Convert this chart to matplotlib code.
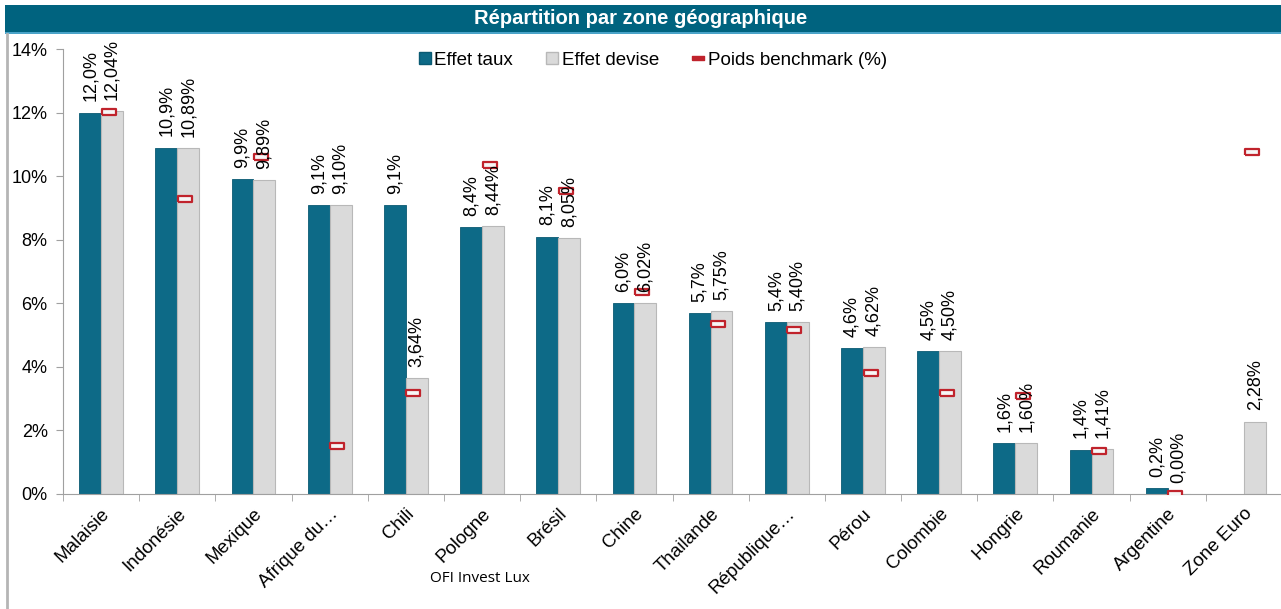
import numpy as np
import matplotlib
matplotlib.use("Agg")
import matplotlib.pyplot as plt
from matplotlib.lines import Line2D
from matplotlib.patches import Rectangle
from matplotlib.ticker import FuncFormatter, FixedLocator

plt.rcParams['font.family'] = ['Liberation Sans', 'DejaVu Sans']

categories = ["Malaisie", "Indonésie", "Mexique", "Afrique du…", "Chili", "Pologne",
              "Brésil", "Chine", "Thailande", "République…", "Pérou", "Colombie",
              "Hongrie", "Roumanie", "Argentine", "Zone Euro"]
effet_taux = [12.0, 10.9, 9.9, 9.1, 9.1, 8.4, 8.1, 6.0, 5.7, 5.4, 4.6, 4.5, 1.6, 1.4, 0.2, np.nan]
effet_devise = [12.04, 10.89, 9.89, 9.10, 3.64, 8.44, 8.05, 6.02, 5.75, 5.40, 4.62, 4.50,
                1.60, 1.41, 0.00, 2.28]
poids_benchmark = [12.02, 9.27, 10.59, 1.52, 3.19, 10.35, 9.53, 6.36, 5.36, 5.15, 3.80, 3.17,
                   3.09, 1.36, 0.0, 10.75]
yticks = [0, 2, 4, 6, 8, 10, 12, 14]

W, H = 1281, 609
fig = plt.figure(figsize=(W / 100, H / 100), dpi=100)

teal = "#0d6a87"
grey = "#dadada"
red = "#c0232c"

# Title bar
fig.patches.append(Rectangle((5 / W, 1 - 33 / H), 1 - 5 / W, 28 / H, transform=fig.transFigure,
                             facecolor="#00637f", edgecolor="none", zorder=0))
fig.patches.append(Rectangle((5 / W, 1 - 34 / H), 1 - 5 / W, 1.5 / H, transform=fig.transFigure,
                             facecolor="#4aa3c8", edgecolor="none", zorder=0))
fig.text(0.5, 1 - 19 / H, "Répartition par zone géographique", color="white",
         fontsize=14.5, fontweight="bold", ha="center", va="center")
# left border
fig.add_artist(Line2D([7 / W, 7 / W], [0, 1 - 34 / H], transform=fig.transFigure,
                      color="#b5b5b5", lw=2))

ax = fig.add_axes([63 / W, 1 - 494 / H, 1219 / W, 445 / H])
x = np.arange(len(categories))
bw = 0.287
ax.bar(x - bw / 2, effet_taux, bw, color=teal, edgecolor="#0a5a73", linewidth=0.6, zorder=2)
ax.bar(x + bw / 2, effet_devise, bw, color=grey, edgecolor="#b8b8b8", linewidth=0.8, zorder=2)

rect = [(-1, -0.42), (1, -0.42), (1, 0.42), (-1, 0.42), (-1, -0.42)]
ax.scatter(x + 0.1, poids_benchmark, marker=rect, s=115, facecolor="#f6f6f6",
           edgecolor=red, linewidth=1.6, zorder=4)

for i in range(len(categories)):
    t = effet_taux[i]
    d = effet_devise[i]
    if not np.isnan(t):
        ax.annotate(f"{t:.1f}%".replace(".", ","), (x[i] - bw / 2, t), xytext=(0, 8),
                    textcoords="offset points", rotation=90, ha="center", va="bottom",
                    fontsize=13, zorder=5)
    ax.annotate(f"{d:.2f}%".replace(".", ","), (x[i] + bw / 2, d), xytext=(0, 8),
                textcoords="offset points", rotation=90, ha="center", va="bottom",
                fontsize=13, zorder=5)

ax.set_xlim(-0.5, len(categories) - 0.5)
ax.set_ylim(0, 14)
ax.set_yticks(yticks)
ax.yaxis.set_major_formatter(FuncFormatter(lambda v, p: f"{v:.0f}%"))
ax.set_xticks(x)
ax.set_xticklabels(categories, rotation=45, ha="right", rotation_mode="anchor", fontsize=13.5)
ax.xaxis.set_minor_locator(FixedLocator(np.arange(-0.5, len(categories) - 0.6, 1.0)))
ax.tick_params(axis="x", which="major", length=0, pad=8)
ax.tick_params(axis="x", which="minor", length=5, color="#a0a0a0")
ax.tick_params(axis="y", length=5, color="#a0a0a0", labelsize=13, pad=6)
for s in ["top", "right"]:
    ax.spines[s].set_visible(False)
ax.spines["left"].set_color("#a0a0a0")
ax.spines["bottom"].set_color("#a0a0a0")

handles = [
    Line2D([], [], marker="s", linestyle="none", markersize=8, markerfacecolor=teal,
           markeredgecolor="#0a5a73"),
    Line2D([], [], marker="s", linestyle="none", markersize=8, markerfacecolor=grey,
           markeredgecolor="#b8b8b8"),
    Line2D([], [], marker=rect, linestyle="none", markersize=8, markerfacecolor=red,
           markeredgecolor=red),
]
fig.legend(handles, ["Effet taux", "Effet devise", "Poids benchmark (%)"], ncol=3,
           loc="center", bbox_to_anchor=(651 / W, 1 - 60 / H), frameon=False, fontsize=13.5,
           handletextpad=0.0, columnspacing=1.6, handlelength=1.0)

fig.text(480 / W, 1 - 578 / H, "OFI Invest Lux", fontsize=11, ha="center", va="center",
         family=["Open Sans", "DejaVu Sans"])

fig.savefig("out.png", dpi=100)
